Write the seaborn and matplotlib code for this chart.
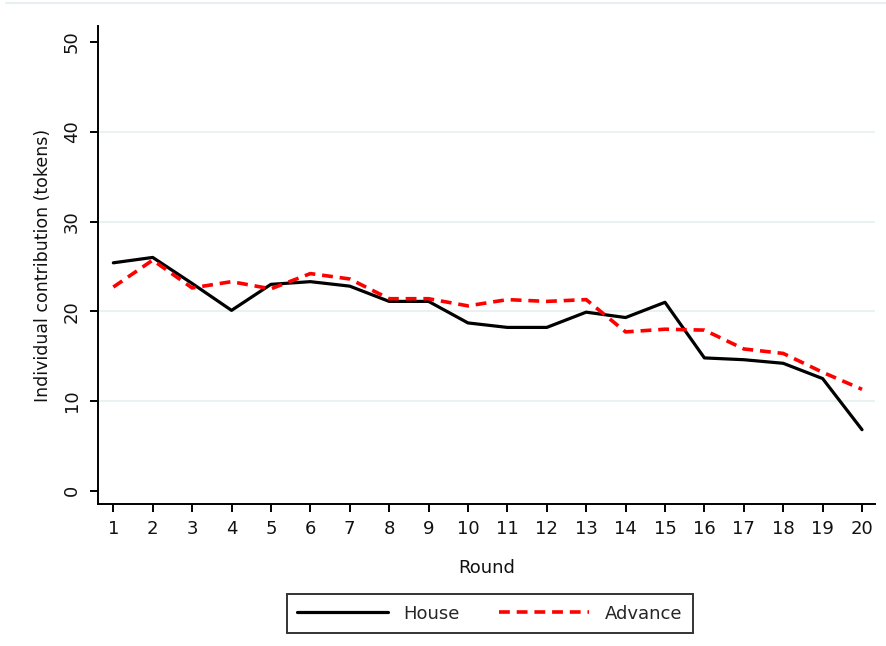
import matplotlib
matplotlib.use("Agg")
import matplotlib.pyplot as plt
from matplotlib.lines import Line2D
import seaborn as sns
import pandas as pd

rounds = list(range(1, 21))
house = [25.4, 26.0, 23.1, 20.1, 23.0, 23.3, 22.8, 21.1, 21.1, 18.7,
         18.2, 18.2, 19.9, 19.3, 21.0, 14.8, 14.6, 14.2, 12.5, 6.8]
advance = [22.7, 25.7, 22.6, 23.3, 22.5, 24.2, 23.6, 21.4, 21.4, 20.6,
           21.3, 21.1, 21.3, 17.7, 18.0, 17.9, 15.8, 15.3, 13.2, 11.3]
series_names = ["House", "Advance"]
y_ticks = [0, 10, 20, 30, 40, 50]

df = pd.DataFrame({
    "Round": rounds * 2,
    "value": house + advance,
    "group": [series_names[0]] * 20 + [series_names[1]] * 20,
})

sns.set_theme(style="white")
plt.rcParams["font.family"] = ["DejaVu Sans"]

fig = plt.figure(figsize=(8.86, 6.46), dpi=100)
ax = fig.add_axes([0.111, 0.2193, 0.8766, 0.7405])

grid_col = "#e6eff1"
for yv in [10, 20, 30, 40]:
    ax.axhline(yv, color=grid_col, lw=1.2, zorder=0)

line_styles = {"House": dict(color="black", lw=2.3, ls="-"),
               "Advance": dict(color="#ff0000", lw=2.6, ls=(0, (3.0, 1.9)))}

for name in series_names:
    sub = df[df["group"] == name]
    st = line_styles[name]
    sns.lineplot(data=sub, x="Round", y="value", ax=ax, color=st["color"],
                 linewidth=st["lw"], linestyle=st["ls"], legend=False, zorder=3)

ax.set_xlim(0.62, 20.33)
ax.set_ylim(-1.52, 51.8)
ax.set_xticks(rounds)
ax.set_xticklabels([str(r) for r in rounds])
ax.set_yticks(y_ticks)
ax.set_yticklabels([str(v) for v in y_ticks], rotation=90, va="center")

for side in ["top", "right"]:
    ax.spines[side].set_visible(False)
for side in ["left", "bottom"]:
    ax.spines[side].set_color("black")
    ax.spines[side].set_linewidth(1.4)

ax.tick_params(axis="both", which="major", direction="out", length=5.5,
               width=1.4, color="black", labelsize=13, labelcolor="#111111",
               left=True, bottom=True)
ax.tick_params(axis="y", pad=7)
ax.tick_params(axis="x", pad=6)

ax.set_xlabel("Round", fontsize=13, color="#111111", labelpad=15)
ax.set_ylabel("Individual contribution (tokens)", fontsize=12.5,
              color="#111111", labelpad=8)

handles = [Line2D([], [], **line_styles[n]) for n in series_names]
leg = fig.legend(handles, series_names, loc="center",
                 bbox_to_anchor=(0.5529, 0.0503), ncol=2, frameon=True,
                 fancybox=False, edgecolor="black", fontsize=13,
                 handlelength=5.0, handletextpad=0.85, columnspacing=2.2,
                 borderpad=0.6, borderaxespad=0.0)
leg.get_frame().set_linewidth(1.4)

# thin rule along the top of the graph region
fig.add_artist(Line2D([6 / 886, 1.0], [1 - 2.5 / 646, 1 - 2.5 / 646],
                      transform=fig.transFigure, color=grid_col, lw=1.5))

fig.savefig("out.png", dpi=100, facecolor="white")
